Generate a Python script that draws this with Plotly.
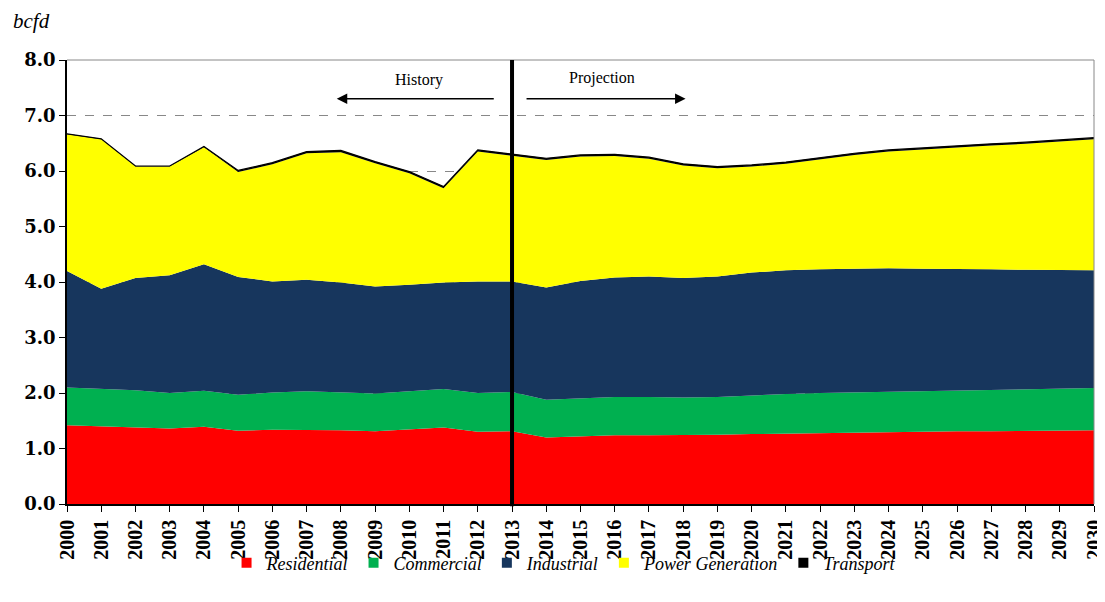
import plotly.graph_objects as go

years = list(range(2000, 2031))

residential = [1.42, 1.40, 1.39, 1.36, 1.39, 1.32, 1.34, 1.34, 1.33, 1.31, 1.34, 1.38, 1.30, 1.31,
               1.20, 1.22, 1.24, 1.24, 1.24, 1.25, 1.26, 1.27, 1.28, 1.29, 1.29, 1.30, 1.31, 1.31,
               1.32, 1.33, 1.33]
commercial = [0.68, 0.68, 0.66, 0.64, 0.65, 0.65, 0.67, 0.69, 0.68, 0.68, 0.69, 0.69, 0.70, 0.71,
              0.68, 0.69, 0.69, 0.69, 0.68, 0.68, 0.70, 0.71, 0.72, 0.72, 0.73, 0.73, 0.73, 0.74,
              0.74, 0.74, 0.76]
industrial = [2.10, 1.80, 2.02, 2.12, 2.28, 2.12, 2.00, 2.01, 1.98, 1.93, 1.92, 1.92, 2.01, 1.99,
              2.02, 2.11, 2.15, 2.17, 2.15, 2.17, 2.21, 2.23, 2.23, 2.23, 2.23, 2.21, 2.20, 2.18,
              2.16, 2.14, 2.12]
power = [2.46, 2.69, 2.01, 1.96, 2.11, 1.89, 2.11, 2.28, 2.35, 2.22, 2.01, 1.70, 2.34, 2.26,
         2.30, 2.24, 2.19, 2.12, 2.03, 1.95, 1.91, 1.92, 1.98, 2.05, 2.10, 2.15, 2.19, 2.23,
         2.27, 2.32, 2.36]
transport = [0.01, 0.01, 0.01, 0.01, 0.01, 0.03, 0.03, 0.03, 0.03, 0.03, 0.03, 0.03, 0.03, 0.03,
             0.03, 0.03, 0.03, 0.03, 0.03, 0.03, 0.03, 0.03, 0.03, 0.03, 0.03, 0.03, 0.03, 0.03,
             0.03, 0.03, 0.03]
year_labels = [str(y) for y in years]
y_ticks = [0, 1, 2, 3, 4, 5, 6, 7, 8]
y_labels = ["0.0", "1.0", "2.0", "3.0", "4.0", "5.0", "6.0", "7.0", "8.0"]

series = [
    ("Residential", residential, "#FF0000"),
    ("Commercial", commercial, "#00B050"),
    ("Industrial", industrial, "#17365D"),
    ("Power Generation", power, "#FFFF00"),
    ("Transport", transport, "#000000"),
]

SERIF = "Liberation Serif, Times New Roman, serif"

fig = go.Figure()
for name, vals, col in series:
    is_t = name == "Transport"
    fig.add_trace(go.Scatter(
        x=years, y=vals, name=name, stackgroup="one", mode="lines",
        line=dict(color=col, width=1.2 if is_t else 0),
        fillcolor=col, showlegend=False, hoverinfo="x+y+name",
    ))
# legend entries as square markers
for name, vals, col in series:
    fig.add_trace(go.Scatter(
        x=[None], y=[None], name=name, mode="markers",
        marker=dict(symbol="square", size=10, color=col),
        showlegend=True,
    ))

fig.update_layout(
    width=1097, height=586,
    margin=dict(l=59, r=11, t=52, b=90, autoexpand=False),
    paper_bgcolor="white", plot_bgcolor="white",
    showlegend=True,
    legend=dict(orientation="h", x=0.4835, xanchor="center", y=-0.133, yanchor="middle",
                traceorder="normal", bgcolor="rgba(0,0,0,0)",
                font=dict(family=SERIF, size=18, color="black", style="italic"),
                itemwidth=30, tracegroupgap=0),
    xaxis=dict(range=[2000, 2030.0001], tickmode="array", tickvals=years,
               ticktext=year_labels, tickangle=-90, automargin=False,
               ticklabeloverflow="allow",
               ticks="outside", ticklen=6, tickcolor="black",
               showline=True, linecolor="black", linewidth=1.5,
               showgrid=False, zeroline=False,
               tickfont=dict(family=SERIF, size=20, color="black", weight="bold")),
    yaxis=dict(range=[0, 8], tickmode="array", tickvals=y_ticks,
               ticktext=y_labels, automargin=False,
               ticks="outside", ticklen=6, tickcolor="black",
               showline=True, linecolor="black", linewidth=1.5,
               showgrid=True, gridcolor="#888888", griddash="dash", gridwidth=0.8,
               zeroline=False,
               tickfont=dict(family="DejaVu Serif, serif", size=18, color="black", weight="bold")),
    shapes=[
        dict(type="line", xref="paper", yref="paper", x0=0, x1=1, y0=1, y1=1,
             line=dict(color="#888888", width=1)),
        dict(type="line", xref="paper", yref="paper", x0=1, x1=1, y0=0, y1=1,
             line=dict(color="#888888", width=1)),
        dict(type="line", xref="x", yref="paper", x0=2013, x1=2013, y0=-0.005, y1=1,
             line=dict(color="black", width=4)),
    ],
    annotations=[
        dict(text="bcfd", xref="paper", yref="paper", x=-0.055, y=1.088, xanchor="left",
             yanchor="middle", showarrow=False,
             font=dict(family=SERIF, size=21, color="black", style="italic")),
        dict(text="History", x=2010.27, y=7.64, xref="x", yref="y", showarrow=False,
             font=dict(family=SERIF, size=16, color="black")),
        dict(text="Projection", x=2015.62, y=7.68, xref="x", yref="y", showarrow=False,
             font=dict(family=SERIF, size=16, color="black")),
        dict(x=2007.88, y=7.30, ax=2012.51, ay=7.30, xref="x", yref="y", axref="x", ayref="y",
             text="", showarrow=True, arrowhead=2, arrowsize=1.4, arrowwidth=1.5,
             arrowcolor="black"),
        dict(x=2018.07, y=7.30, ax=2013.38, ay=7.30, xref="x", yref="y", axref="x", ayref="y",
             text="", showarrow=True, arrowhead=2, arrowsize=1.4, arrowwidth=1.5,
             arrowcolor="black"),
    ],
)

fig.write_html("out.html")
